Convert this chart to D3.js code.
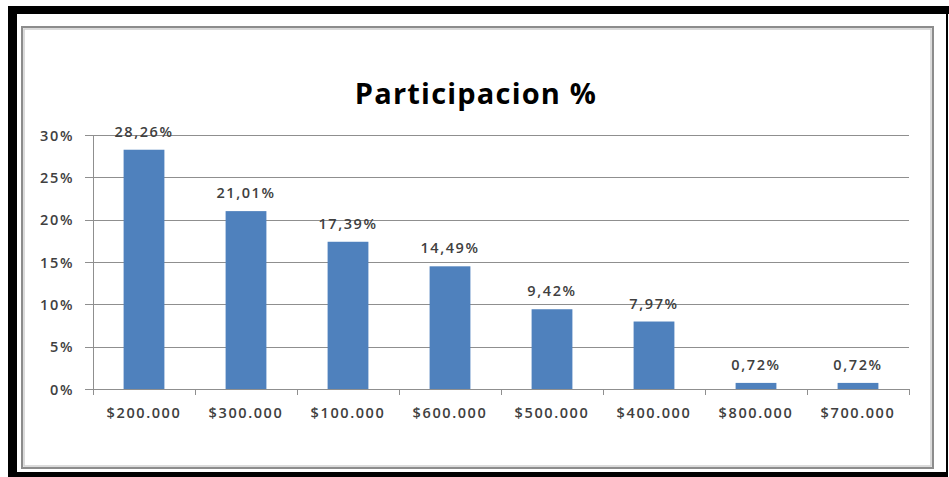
<!DOCTYPE html>
<html>
<head>
<meta charset="utf-8">
<script src="https://cdn.jsdelivr.net/npm/d3@7"></script>
<style>
  html, body { margin: 0; padding: 0; background: #ffffff; }
  svg { display: block; }
  text { font-family: "Open Sans", sans-serif; fill: #404040; }
</style>
</head>
<body>
<svg id="chart" width="949" height="477"></svg>
<script>
// Share of each price bracket
const categories = ["$200.000", "$300.000", "$100.000", "$600.000", "$500.000", "$400.000", "$800.000", "$700.000"];
const values = [28.26, 21.01, 17.39, 14.49, 9.42, 7.97, 0.72, 0.72];
const yTicks = [0, 5, 10, 15, 20, 25, 30];
const title = "Participacion %";

const svg = d3.select("#chart");

// Black outer frame: heavy top and left edges, thin right edge
const frame = svg.append("g").attr("fill", "#000");
frame.append("rect").attr("x", 8).attr("y", 6).attr("width", 941).attr("height", 8);
frame.append("rect").attr("x", 8).attr("y", 6).attr("width", 9).attr("height", 471);
frame.append("rect").attr("x", 946).attr("y", 6).attr("width", 2).attr("height", 471);
frame.append("rect").attr("x", 8).attr("y", 472).attr("width", 940).attr("height", 5);

// Chart area border with a soft inner shade
svg.append("rect").attr("x", 22).attr("y", 27).attr("width", 911).attr("height", 441)
  .attr("fill", "#fff").attr("stroke", "#8c8c8c").attr("stroke-width", 2);
svg.append("rect").attr("x", 24).attr("y", 29).attr("width", 907).attr("height", 437)
  .attr("fill", "none").attr("stroke", "#cfcfcf").attr("stroke-width", 1.5);

const margin = { left: 93, right: 909, top: 135, bottom: 389 };

const x = d3.scaleBand()
  .domain(categories)
  .range([margin.left, margin.right])
  .paddingInner(0.6)
  .paddingOuter(0.3);

const y = d3.scaleLinear()
  .domain([0, 30])
  .range([margin.bottom, margin.top]);

// Horizontal gridlines
svg.append("g")
  .selectAll("line")
  .data(yTicks)
  .join("line")
  .attr("x1", 85).attr("x2", margin.right)
  .attr("y1", d => Math.round(y(d)) + 0.5).attr("y2", d => Math.round(y(d)) + 0.5)
  .attr("stroke", "#8f8f8f").attr("stroke-width", 1);

const labelFont = { size: 14.5, weight: 600, spacing: 1.6 };

// Y axis labels
const yAxis = d3.axisLeft(y).tickValues(yTicks).tickFormat(d => d + "%").tickSize(0).tickPadding(0);
const gy = svg.append("g").attr("transform", `translate(74,0)`).call(yAxis);
gy.select(".domain").remove();
gy.selectAll("text")
  .attr("font-family", "Open Sans, sans-serif")
  .attr("font-size", labelFont.size).attr("font-weight", labelFont.weight)
  .attr("letter-spacing", labelFont.spacing)
  .attr("fill", "#404040")
  .attr("dy", "0.36em");

// Y axis line
svg.append("line")
  .attr("x1", margin.left + 0.5).attr("x2", margin.left + 0.5)
  .attr("y1", margin.top).attr("y2", margin.bottom)
  .attr("stroke", "#8f8f8f");

// Bars
svg.append("g")
  .selectAll("rect")
  .data(values)
  .join("rect")
  .attr("x", (d, i) => x(categories[i]))
  .attr("y", d => y(d))
  .attr("width", x.bandwidth())
  .attr("height", d => y(0) - y(d))
  .attr("fill", "#4f81bd");

// X axis labels
const xAxis = d3.axisBottom(x).tickSize(0).tickPadding(0);
const gx = svg.append("g").attr("transform", `translate(0,${margin.bottom})`).call(xAxis);
gx.select(".domain").remove();
gx.selectAll("text")
  .attr("y", 29)
  .attr("dy", 0)
  .attr("font-family", "Open Sans, sans-serif")
  .attr("font-size", labelFont.size).attr("font-weight", labelFont.weight)
  .attr("letter-spacing", labelFont.spacing)
  .attr("fill", "#404040");

// Tick marks between categories
const step = x.step();
const boundaries = d3.range(categories.length + 1).map(i => margin.left + i * step);
svg.append("g")
  .selectAll("line")
  .data(boundaries)
  .join("line")
  .attr("x1", d => Math.round(d) + 0.5).attr("x2", d => Math.round(d) + 0.5)
  .attr("y1", margin.bottom).attr("y2", margin.bottom + 6)
  .attr("stroke", "#8f8f8f");

// Value labels
const fmt = v => v.toFixed(2).replace(".", ",") + "%";
svg.append("g")
  .selectAll("text")
  .data(values)
  .join("text")
  .attr("x", (d, i) => x(categories[i]) + x.bandwidth() / 2)
  .attr("y", d => y(d) - 13)
  .attr("text-anchor", "middle")
  .attr("font-size", labelFont.size).attr("font-weight", labelFont.weight)
  .attr("letter-spacing", labelFont.spacing)
  .text(fmt);

// Title
svg.append("text")
  .attr("x", 476).attr("y", 104)
  .attr("text-anchor", "middle")
  .attr("font-size", 29).attr("font-weight", 700)
  .attr("letter-spacing", 1.2)
  .style("fill", "#000")
  .text(title);
</script>
</body>
</html>
